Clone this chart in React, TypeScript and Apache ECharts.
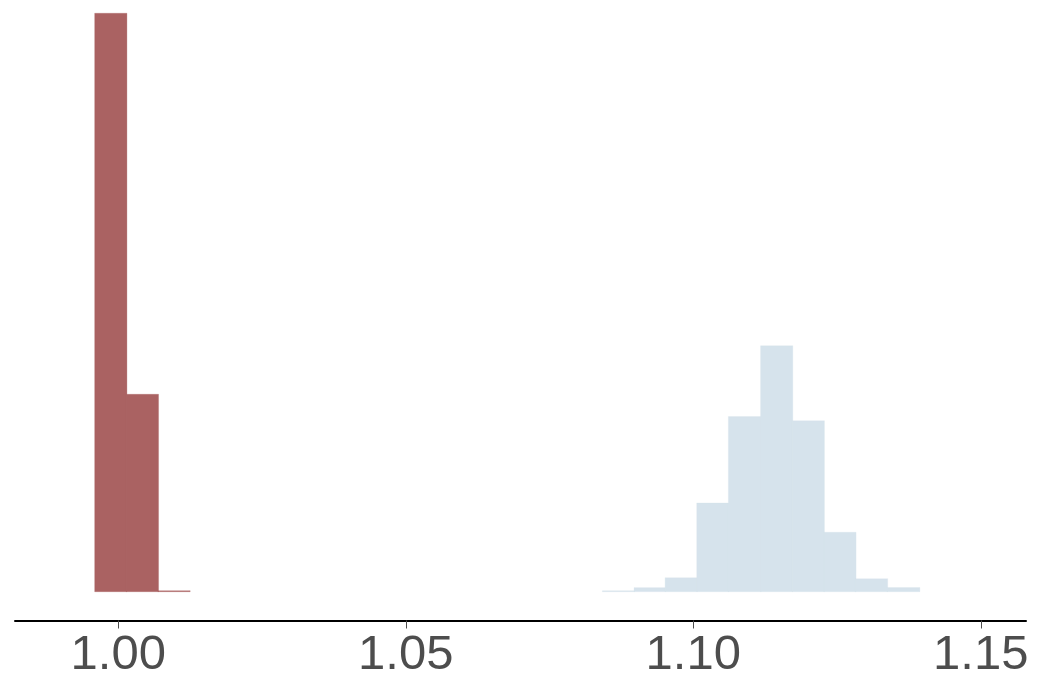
import React, { useEffect, useRef } from "react";
import * as echarts from "echarts";

// Histogram bin edges (x values) and counts
const redEdges = [0.9959, 1.0014, 1.0069, 1.0124];
const redCounts = [2980, 1017, 5];
const blueEdges = [1.0842, 1.0897, 1.0951, 1.1006, 1.1061, 1.1117, 1.1172, 1.1227, 1.1282, 1.1337, 1.1393];
const blueCounts = [5, 21, 72, 457, 902, 1267, 881, 306, 67, 21];
const tickValues = [1.0, 1.05, 1.1, 1.15];

const toBins = (edges: number[], counts: number[]) =>
  counts.map((c, i) => [edges[i], edges[i + 1], c]);

export default function App() {
  const ref = useRef<HTMLDivElement>(null);
  useEffect(() => {
    if (!ref.current) return;
    const chart = echarts.init(ref.current, undefined, { renderer: "svg" });
    const renderItem = (params: any, api: any) => {
      const x0 = api.value(0);
      const x1 = api.value(1);
      const c = api.value(2);
      const p0 = api.coord([x0, c]);
      const p1 = api.coord([x1, 0]);
      const color = api.visual("color");
      return {
        type: "rect",
        shape: { x: p0[0], y: p0[1], width: p1[0] - p0[0] + 0.6, height: p1[1] - p0[1] },
        style: { fill: color, stroke: color, lineWidth: 0.3 },
      };
    };
    chart.setOption({
      animation: false,
      backgroundColor: "#ffffff",
      grid: { left: 15, right: 11, top: 10, bottom: 64.5, containLabel: false },
      xAxis: {
        type: "value",
        min: 0.98204,
        max: 1.15786,
        splitLine: { show: false },
        axisLine: { show: true, onZero: false, lineStyle: { color: "#000000", width: 2 } },
        axisTick: {
          show: true,
          length: 8,
          lineStyle: { color: "#4d4d4d", width: 1 },
          customValues: tickValues,
        },
        axisLabel: {
          customValues: tickValues,
          formatter: (v: number) => v.toFixed(2),
          fontSize: 49,
          fontFamily: "'Liberation Sans', Arial, sans-serif",
          color: "#4d4d4d",
          margin: 7,
        },
      },
      yAxis: {
        type: "value",
        min: -148.4,
        max: 2996.9,
        show: false,
        splitLine: { show: false },
      },
      series: [
        {
          type: "custom",
          renderItem,
          itemStyle: { color: "#aa6262" },
          data: toBins(redEdges, redCounts),
          encode: { x: [0, 1], y: 2 },
        },
        {
          type: "custom",
          renderItem,
          itemStyle: { color: "#d6e3ec" },
          data: toBins(blueEdges, blueCounts),
          encode: { x: [0, 1], y: 2 },
        },
      ],
    });
    return () => chart.dispose();
  }, []);
  return (
    <div
      ref={ref}
      style={{ position: "fixed", left: 0, top: 0, width: 1037, height: 685 }}
    />
  );
}
